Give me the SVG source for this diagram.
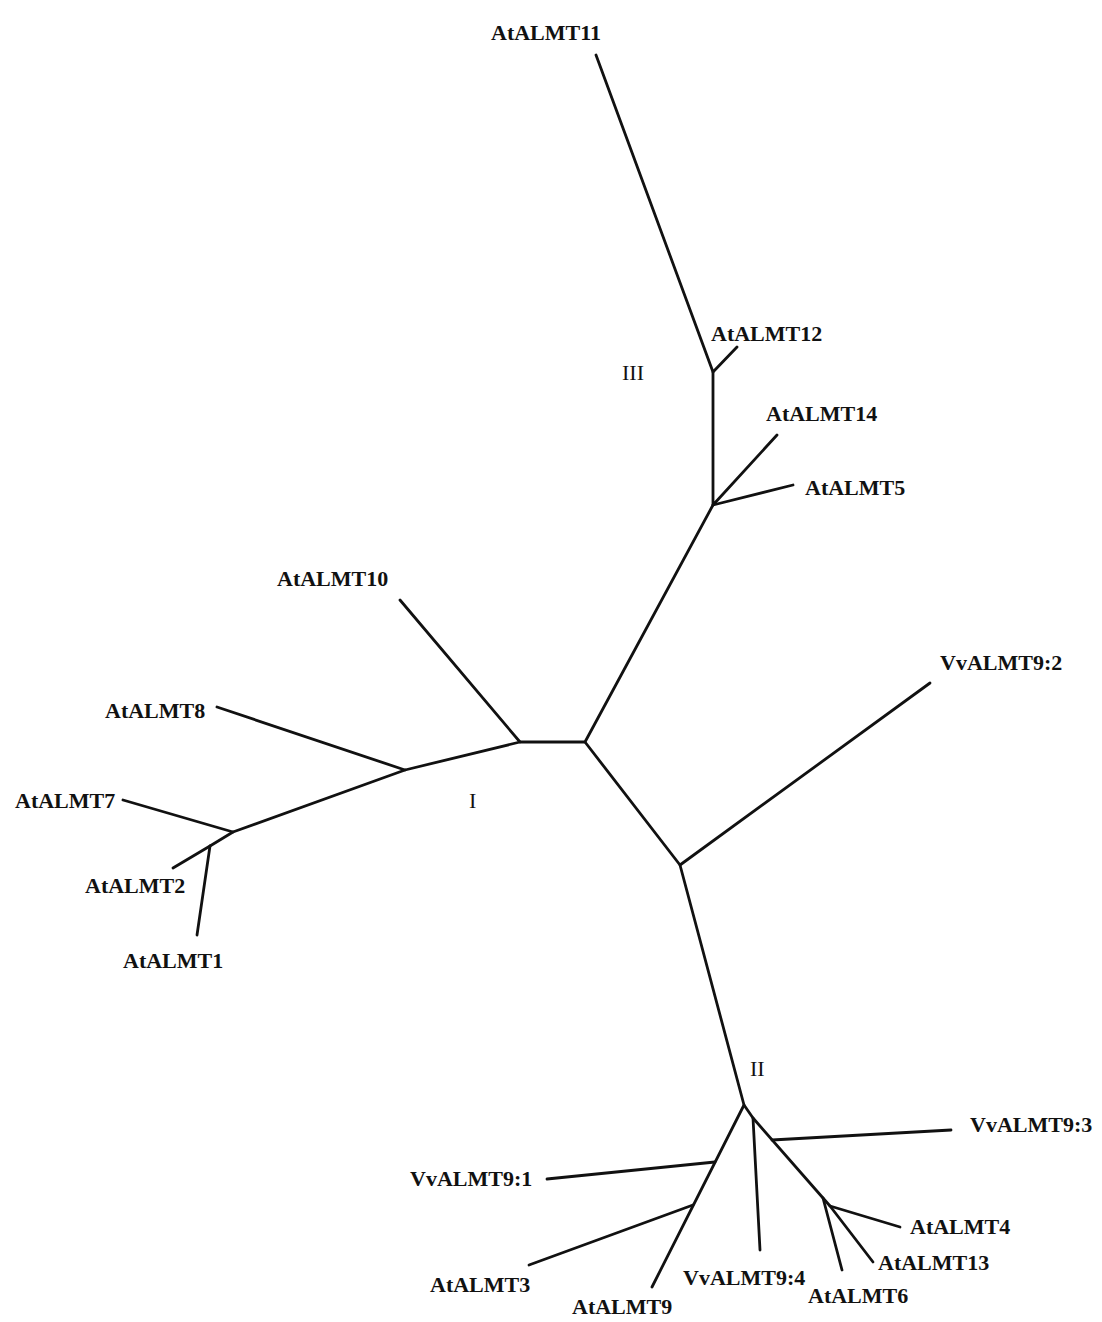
<svg xmlns="http://www.w3.org/2000/svg" width="1102" height="1322" viewBox="0 0 1102 1322">
<style>
.lbl{font-family:"Liberation Serif","Times New Roman",serif;font-weight:bold;font-size:22px;fill:#111}
.grp{font-family:"Liberation Serif","Times New Roman",serif;font-size:22px;fill:#111}
.br{stroke:#111;stroke-width:2.8;fill:none;stroke-linecap:round;stroke-linejoin:round}
</style>
<rect width="1102" height="1322" fill="#fff"/>
<g id="connectors" class="br">
<path d="M596,55 L713,372 L737,347"/>
<path d="M713,372 L713,505 L777,435"/>
<path d="M713,505 L793,485"/>
<path d="M713,505 L585,742 L520,742 L400,600"/>
<path d="M520,742 L405,770 L217,707"/>
<path d="M405,770 L233,832 L123,800"/>
<path d="M233,832 L210,846 L173,868"/>
<path d="M210,846 L197,935"/>
<path d="M585,742 L680,865 L930,683"/>
<path d="M680,865 L744,1105 L652,1287"/>
<path d="M715,1162 L547,1179"/>
<path d="M693,1205 L529,1265"/>
<path d="M744,1105 L753,1118 L760,1250"/>
<path d="M753,1118 L823,1198 L842,1270"/>
<path d="M772,1140 L951,1130"/>
<path d="M823,1198 L830,1206 L900,1227"/>
<path d="M830,1206 L873,1262"/>
</g>
<g id="AtALMT11"><text class="lbl" x="491" y="40">AtALMT11</text></g>
<g id="AtALMT12"><text class="lbl" x="711" y="341">AtALMT12</text></g>
<g id="III"><text class="grp" x="622" y="380">III</text></g>
<g id="AtALMT14"><text class="lbl" x="766" y="421">AtALMT14</text></g>
<g id="AtALMT5"><text class="lbl" x="805" y="495">AtALMT5</text></g>
<g id="AtALMT10"><text class="lbl" x="277" y="586">AtALMT10</text></g>
<g id="VvALMT9-2"><text class="lbl" x="940" y="670">VvALMT9:2</text></g>
<g id="AtALMT8"><text class="lbl" x="105" y="718">AtALMT8</text></g>
<g id="AtALMT7"><text class="lbl" x="15" y="808">AtALMT7</text></g>
<g id="I"><text class="grp" x="469" y="808">I</text></g>
<g id="AtALMT2"><text class="lbl" x="85" y="893">AtALMT2</text></g>
<g id="AtALMT1"><text class="lbl" x="123" y="968">AtALMT1</text></g>
<g id="II"><text class="grp" x="750" y="1076">II</text></g>
<g id="VvALMT9-3"><text class="lbl" x="970" y="1132">VvALMT9:3</text></g>
<g id="VvALMT9-1"><text class="lbl" x="410" y="1186">VvALMT9:1</text></g>
<g id="AtALMT4"><text class="lbl" x="910" y="1234">AtALMT4</text></g>
<g id="AtALMT13"><text class="lbl" x="878" y="1270">AtALMT13</text></g>
<g id="AtALMT3"><text class="lbl" x="430" y="1292">AtALMT3</text></g>
<g id="VvALMT9-4"><text class="lbl" x="683" y="1285">VvALMT9:4</text></g>
<g id="AtALMT6"><text class="lbl" x="808" y="1303">AtALMT6</text></g>
<g id="AtALMT9"><text class="lbl" x="572" y="1314">AtALMT9</text></g>
</svg>
